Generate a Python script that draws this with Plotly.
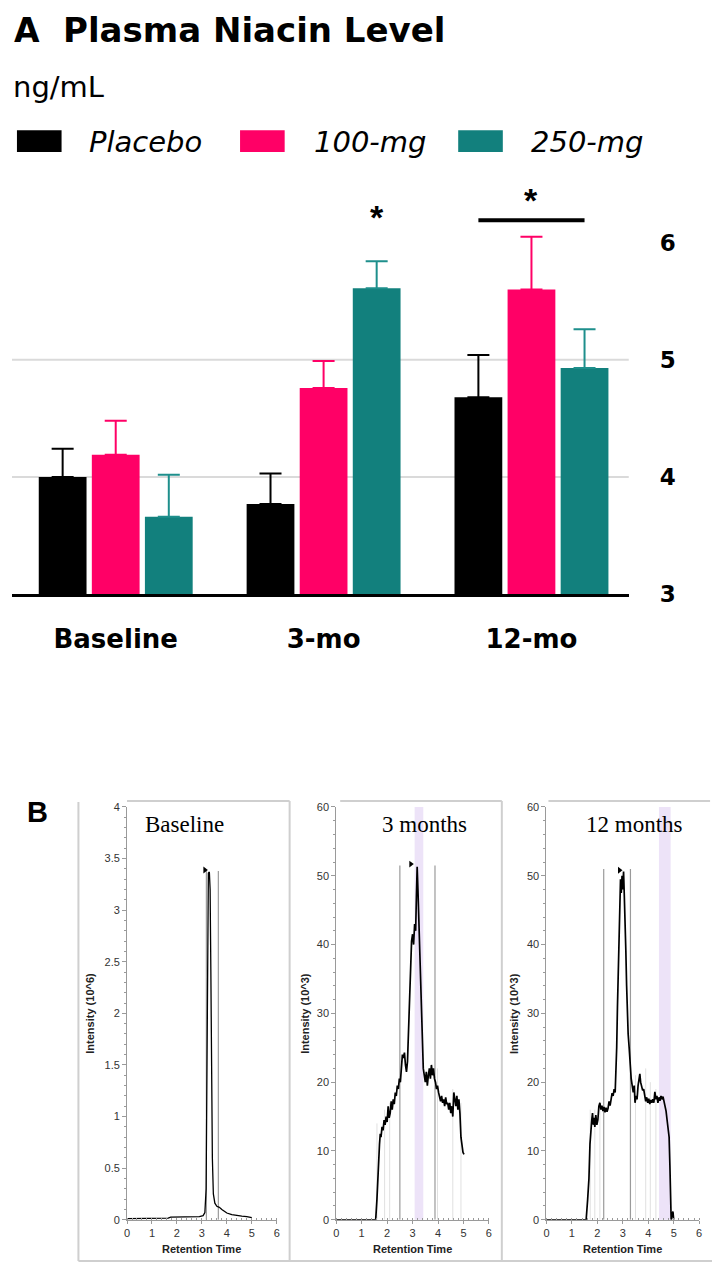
import plotly.graph_objects as go

# The page body keeps the browser's default 8px margin, so the figure is
# drawn 8px smaller and every reference-pixel position is offset by it.
PAGE_W, PAGE_H, BODY = 720, 1281, 8
W, H = PAGE_W - BODY, PAGE_H - BODY

# ---------------- Panel A data ----------------
categories = ["Baseline", "3-mo", "12-mo"]
series_names = ["Placebo", "100-mg", "250-mg"]
placebo = [4.00, 3.77, 4.68]
placebo_err = [0.24, 0.26, 0.36]
mg100 = [4.19, 4.76, 5.60]
mg100_err = [0.29, 0.23, 0.45]
mg250 = [3.66, 5.61, 4.93]
mg250_err = [0.36, 0.23, 0.33]
series_colors = ["#000000", "#FF0066", "#12807D"]
err_colors = ["#000000", "#FF0066", "#1E8F8C"]
yticks_A = [3, 4, 5, 6]
grid_A = [4, 5]
# significance marks: (category, from series, to series, bar level, star level)
sig_marks = [("3-mo", 2, 2, None, 6.22), ("12-mo", 0, 2, 6.19, 6.36)]

# ---------------- Panel B data ----------------
panel_titles = ["Baseline", "3 months", "12 months"]
y_titles = ["Intensity (10^6)", "Intensity (10^3)", "Intensity (10^3)"]
y_tops = [4, 60, 60]
y_dticks = [0.5, 10, 10]
baseline_points = [
    (0, 0.01), (0.5, 0.01), (1.0, 0.01), (1.5, 0.01), (1.65, 0.015), (1.75, 0.025),
    (2.0, 0.025), (2.5, 0.03), (2.9, 0.03), (3.05, 0.04), (3.12, 0.07), (3.17, 0.3),
    (3.2, 1.5), (3.23, 3.0), (3.26, 3.36), (3.3, 3.37), (3.33, 3.2), (3.36, 2.4),
    (3.39, 1.4), (3.42, 0.6), (3.46, 0.25), (3.52, 0.16), (3.6, 0.13), (3.7, 0.12),
    (3.8, 0.1), (3.9, 0.08), (4.0, 0.065), (4.2, 0.05), (4.4, 0.04), (4.6, 0.035),
    (4.8, 0.03), (5.0, 0.02),
]
months3_points = [
    (0, 0), (1.0, 0), (1.55, 0), (1.6, 3), (1.65, 8), (1.70, 11), (1.73, 12.5), (1.76, 12),
    (1.80, 13.5), (1.84, 13), (1.88, 14.5), (1.92, 13.8), (1.96, 15), (2.00, 14.2),
    (2.04, 16.5), (2.08, 14.8), (2.12, 15.5), (2.16, 17.2), (2.20, 16), (2.24, 17.5),
    (2.28, 16.8), (2.32, 18.5), (2.36, 18), (2.40, 19.5), (2.44, 19), (2.48, 20.5),
    (2.52, 20), (2.56, 22), (2.60, 24), (2.64, 23.5), (2.68, 24.3), (2.72, 22.5),
    (2.76, 21.5), (2.80, 23), (2.84, 28), (2.88, 33), (2.92, 39), (2.96, 40.5),
    (3.00, 41.5), (3.04, 40), (3.08, 43), (3.12, 42), (3.15, 47), (3.18, 51.3),
    (3.21, 48), (3.24, 44), (3.27, 40), (3.30, 35), (3.34, 30), (3.38, 24), (3.42, 22),
    (3.46, 21), (3.50, 20), (3.54, 21.5), (3.58, 19.5), (3.62, 21), (3.66, 22),
    (3.70, 20.5), (3.74, 22.5), (3.78, 21), (3.82, 22), (3.86, 20.5), (3.90, 20),
    (3.94, 19), (3.98, 19.5), (4.02, 18.5), (4.06, 18), (4.10, 17.2), (4.14, 18),
    (4.18, 17), (4.22, 17.5), (4.26, 16.5), (4.30, 17.8), (4.34, 16.8), (4.38, 17),
    (4.42, 16), (4.46, 17), (4.50, 15.5), (4.54, 16.5), (4.58, 15), (4.62, 18.5),
    (4.66, 17.5), (4.70, 16.5), (4.74, 18), (4.78, 16), (4.82, 17.5), (4.86, 15.5),
    (4.90, 12), (4.94, 10.5), (4.98, 9.8), (5.02, 9.5),
]
months12_points = [
    (0, 0), (1.0, 0), (1.56, 0), (1.62, 3), (1.67, 6), (1.71, 11), (1.74, 13), (1.78, 14.5),
    (1.81, 15.5), (1.84, 13.8), (1.87, 14.8), (1.9, 13.5), (1.94, 15.2), (1.98, 13.8),
    (2.02, 14.5), (2.06, 16.5), (2.1, 17), (2.14, 16), (2.18, 16.6), (2.22, 15.8),
    (2.26, 16.4), (2.3, 15.6), (2.34, 16.3), (2.38, 15.7), (2.42, 16.2), (2.46, 17.2),
    (2.5, 16.6), (2.54, 17.6), (2.58, 18.4), (2.62, 18), (2.66, 19), (2.7, 18.5),
    (2.73, 21), (2.76, 25), (2.79, 31), (2.82, 37), (2.85, 43), (2.88, 47), (2.91, 49.5),
    (2.94, 47.5), (2.97, 50), (3.0, 48), (3.03, 50.6), (3.06, 47), (3.09, 44), (3.12, 39),
    (3.15, 34), (3.18, 30), (3.21, 27), (3.25, 25), (3.29, 22), (3.33, 20.5), (3.37, 19.5),
    (3.41, 18.5), (3.45, 19.5), (3.48, 17), (3.52, 18), (3.56, 17.5), (3.6, 19.5),
    (3.64, 20.5), (3.67, 21.2), (3.7, 20), (3.74, 19.5), (3.78, 18.8), (3.82, 19),
    (3.86, 18), (3.9, 17.2), (3.94, 17.8), (3.98, 17), (4.02, 17.6), (4.06, 16.8),
    (4.1, 17.4), (4.14, 17), (4.18, 17.5), (4.22, 17), (4.26, 18.6), (4.3, 17.5),
    (4.34, 18), (4.38, 17), (4.42, 17.8), (4.46, 17.3), (4.5, 18), (4.54, 17.5),
    (4.58, 17.9), (4.62, 17.2), (4.66, 16.8), (4.7, 15.8), (4.74, 14.5), (4.78, 13.5),
    (4.82, 12), (4.85, 8), (4.87, 1), (4.9, 0), (4.94, 0.8), (4.97, 1.2), (5.0, 0),
]
# integration markers: (time, height)
baseline_dark = [(3.18, 3.38), (3.66, 3.38)]
baseline_light = []
months3_dark = [(2.5, 51.5), (3.88, 51.5)]
months3_light = [(1.6, 14), (1.9, 16), (2.1, 17), (3.98, 22), (4.58, 19), (4.9, 17)]
months12_dark = [(2.25, 51), (3.3, 51)]
months12_light = [(1.72, 16), (1.9, 16), (2.1, 17), (3.5, 21), (3.9, 22), (4.08, 20), (4.3, 19)]
peak_flags = [(3.12, 3.39), (2.93, 51.7), (2.87, 50.8)]
bands = [None, (3.08, 3.42), (4.42, 4.88)]

SANS_A = "DejaVu Sans, Verdana, sans-serif"
SANS = "Liberation Sans, Arial, sans-serif"
SERIF = "Liberation Serif, Times New Roman, serif"


def px(x):
    return max(0.0, (x - BODY) / W)


def py(y):
    return min(1.0, 1 - (y - BODY) / H)


fig = go.Figure()

# ---------------- Panel A ----------------
BARGAP = 0.234
for name, vals, errs, col, ecol in zip(series_names, [placebo, mg100, mg250],
                                       [placebo_err, mg100_err, mg250_err],
                                       series_colors, err_colors):
    fig.add_trace(go.Bar(
        x=categories, y=vals, name=name, marker=dict(color=col, line=dict(width=0)),
        error_y=dict(type="data", symmetric=False, array=errs, arrayminus=[0] * len(errs),
                     color=ecol, thickness=2, width=11),
        xaxis="x", yaxis="y", showlegend=False,
    ))

slot = (1 - BARGAP) / len(series_names)


def bar_center(cat, k):
    return categories.index(cat) + (k - (len(series_names) - 1) / 2) * slot


shapes = []
annotations = []
for g in grid_A:
    shapes.append(dict(type="line", xref="x domain", yref="y", x0=0, x1=1, y0=g, y1=g,
                       line=dict(color="#DADADA", width=2), layer="below"))

for cat, k0, k1, bar_y, star_y in sig_marks:
    if bar_y is not None:
        shapes.append(dict(type="line", xref="x", yref="y", x0=bar_center(cat, k0),
                           x1=bar_center(cat, k1), y0=bar_y, y1=bar_y,
                           line=dict(color="black", width=4)))
    annotations.append(dict(text="*", x=(bar_center(cat, k0) + bar_center(cat, k1)) / 2,
                            y=star_y, xref="x", yref="y", showarrow=False,
                            font=dict(family=SANS, size=34, color="black", weight="bold")))

# Title, unit and legend
annotations += [
    dict(text="A", x=px(9), y=py(24.5), xref="paper", yref="paper", xanchor="left",
         yanchor="middle", showarrow=False,
         font=dict(family=SANS_A, size=33, color="black", weight="bold")),
    dict(text="Plasma Niacin Level", x=px(58), y=py(24.5), xref="paper", yref="paper",
         xanchor="left", yanchor="middle", showarrow=False,
         font=dict(family=SANS_A, size=34, color="black", weight="bold")),
    dict(text="ng/mL", x=px(8), y=py(82), xref="paper", yref="paper", xanchor="left",
         yanchor="middle", showarrow=False, font=dict(family=SANS_A, size=29, color="black")),
]
legend_box_x = [14, 239, 459]
legend_text_x = [85, 312, 530]
for name, col, bx, tx in zip(series_names, series_colors, legend_box_x, legend_text_x):
    shapes.append(dict(type="rect", xref="paper", yref="paper", x0=px(bx), x1=px(bx + 45),
                       y0=py(148), y1=py(126), fillcolor=col, line=dict(width=0)))
    annotations.append(dict(text="<i>%s</i>" % name, x=px(tx), y=py(138), xref="paper",
                            yref="paper", xanchor="left", yanchor="middle", showarrow=False,
                            font=dict(family=SANS_A, size=29, color="black")))

# ---------------- Panel B ----------------
x_domains_px = [(125, 276), (336, 490), (548, 702)]
y_dom = [py(1232), py(813)]
point_sets = [baseline_points, months3_points, months12_points]
dark_sets = [baseline_dark, months3_dark, months12_dark]
light_sets = [baseline_light, months3_light, months12_light]
title_centers = [183, 425, 637]
ytitle_x = [88, 305, 516]

for i in range(3):
    xa = "x%d" % (i + 2)
    ya = "y%d" % (i + 2)
    for lines, col, wid in [(light_sets[i], "#E0E0E0", 1), (dark_sets[i], "#9A9A9A", 1.2)]:
        lx, ly = [], []
        for t, h in lines:
            lx += [t, t, None]
            ly += [0, h, None]
        if lx:
            fig.add_trace(go.Scatter(x=lx, y=ly, mode="lines", line=dict(color=col, width=wid),
                                     xaxis=xa, yaxis=ya, showlegend=False, hoverinfo="skip"))
    pts = point_sets[i]
    fig.add_trace(go.Scatter(x=[p[0] for p in pts], y=[p[1] for p in pts], mode="lines",
                             line=dict(color="black", width=1.7 if i else 1.3),
                             xaxis=xa, yaxis=ya, showlegend=False))
    fx, fy = peak_flags[i]
    fig.add_trace(go.Scatter(x=[fx], y=[fy], mode="markers",
                             marker=dict(symbol="triangle-right", size=6, color="black"),
                             xaxis=xa, yaxis=ya, showlegend=False))
    if bands[i]:
        shapes.append(dict(type="rect", xref=xa, yref="%s domain" % ya, x0=bands[i][0],
                           x1=bands[i][1], y0=0, y1=1, fillcolor="#EDE3F8",
                           line=dict(width=0), layer="below"))
    annotations.append(dict(text=panel_titles[i], x=px(title_centers[i]), y=py(831),
                            xref="paper", yref="paper", xanchor="center", yanchor="middle",
                            showarrow=False, font=dict(family=SERIF, size=23, color="black")))
    annotations.append(dict(text=y_titles[i], x=px(ytitle_x[i]), y=(y_dom[0] + y_dom[1]) / 2,
                            xref="paper", yref="paper", textangle=-90, xanchor="center",
                            yanchor="middle", showarrow=False,
                            font=dict(family=SANS, size=11, color="#222", weight="bold")))
    annotations.append(dict(text="Retention Time", x=px(sum(x_domains_px[i]) / 2), y=py(1262),
                            xref="paper", yref="paper", xanchor="center", yanchor="middle",
                            showarrow=False,
                            font=dict(family=SANS, size=11, color="#222", weight="bold")))

# frame lines of panel B
frame_col = "#CFCFCF"
for x0, x1, y0, y1 in [(76, 76, 808, 1274), (76, 720, 1274, 1274), (289, 289, 807, 1274),
                       (503, 503, 807, 1274), (125, 289, 807, 807), (340, 503, 807, 807),
                       (550, 713, 807, 807)]:
    shapes.append(dict(type="line", xref="paper", yref="paper", x0=px(x0), x1=px(x1),
                       y0=py(y0), y1=py(y1), line=dict(color=frame_col, width=2)))

annotations.append(dict(text="B", x=px(22), y=py(818), xref="paper", yref="paper",
                        xanchor="left", yanchor="middle", showarrow=False,
                        font=dict(family=SANS, size=29, color="black", weight="bold")))

layout = dict(
    width=W, height=H, margin=dict(l=0, r=0, t=0, b=0),
    paper_bgcolor="white", plot_bgcolor="white",
    barmode="group", bargap=BARGAP, bargroupgap=0.10,
    showlegend=False,
    xaxis=dict(domain=[px(9), px(631)], range=[-0.499, 2.468], anchor="y",
               showline=True, linecolor="black", linewidth=3, ticks="",
               showgrid=False, zeroline=False, ticklabelstandoff=20,
               tickfont=dict(family=SANS_A, size=26, color="black", weight="bold")),
    yaxis=dict(domain=[py(597), py(180.5)], range=[3, 6.5], anchor="x", side="right",
               tickvals=yticks_A, showgrid=False, showline=False, zeroline=False, ticks="",
               ticklabelstandoff=30,
               tickfont=dict(family=SANS_A, size=23, color="black", weight="bold")),
    shapes=shapes, annotations=annotations,
)

for i in range(3):
    layout["xaxis%d" % (i + 2)] = dict(
        domain=[px(x_domains_px[i][0]), px(x_domains_px[i][1])], range=[0, 6],
        anchor="y%d" % (i + 2), tick0=0, dtick=1, showline=True, linecolor="#9A9A9A",
        linewidth=1, ticks="outside", ticklen=3, tickcolor="#9A9A9A", showgrid=False,
        zeroline=False, minor=dict(dtick=0.2, ticks="inside", ticklen=2, tickcolor="#9A9A9A"),
        tickfont=dict(family=SANS, size=11, color="#333"))
    layout["yaxis%d" % (i + 2)] = dict(
        domain=y_dom, range=[0, y_tops[i]], anchor="x%d" % (i + 2), tick0=0,
        dtick=y_dticks[i], showline=True, linecolor="#9A9A9A", linewidth=1,
        ticks="outside", ticklen=4, tickcolor="#9A9A9A", showgrid=False, zeroline=False,
        minor=dict(dtick=y_dticks[i] / 5, ticks="outside", ticklen=2, tickcolor="#9A9A9A"),
        tickfont=dict(family=SANS, size=11, color="#333"))

fig.update_layout(**layout)
fig.write_html("out.html")
